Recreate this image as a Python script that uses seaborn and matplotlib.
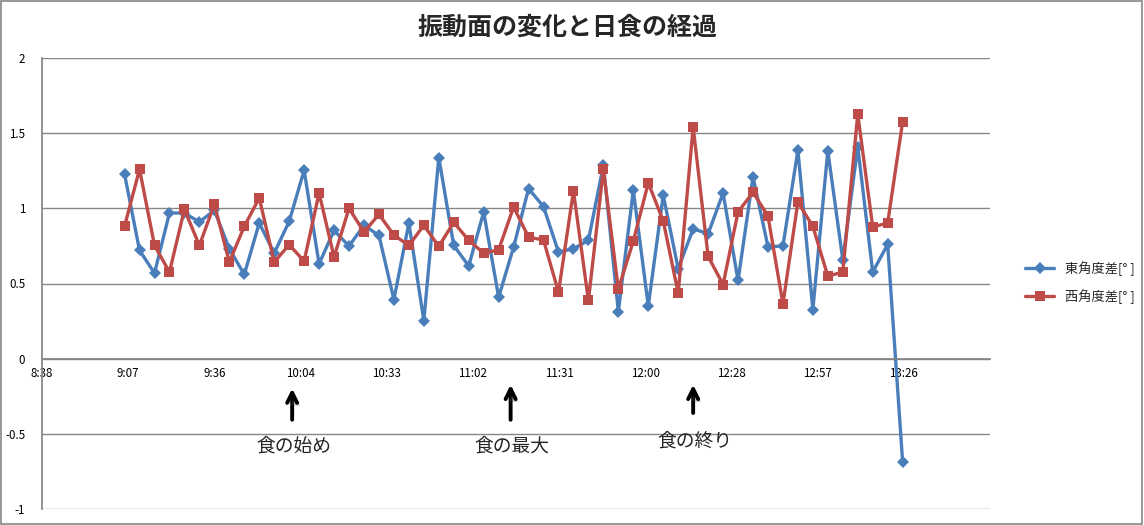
import pandas as pd
import seaborn as sns
import matplotlib.pyplot as plt
import matplotlib.patheffects as pe
from matplotlib.patches import Rectangle

# measurement times (every 5 min) and the two angle differences
times = ["9:06", "9:11", "9:16", "9:21", "9:26", "9:31", "9:36", "9:41", "9:46", "9:51",
         "9:56", "10:01", "10:06", "10:11", "10:16", "10:21", "10:26", "10:31", "10:36",
         "10:41", "10:46", "10:51", "10:56", "11:01", "11:06", "11:11", "11:16", "11:21",
         "11:26", "11:31", "11:36", "11:41", "11:46", "11:51", "11:56", "12:01", "12:06",
         "12:11", "12:16", "12:21", "12:26", "12:31", "12:36", "12:41", "12:46", "12:51",
         "12:56", "13:01", "13:06", "13:11", "13:16", "13:21", "13:26"]
east = [1.227, 0.72, 0.569, 0.969, 0.969, 0.909, 0.987, 0.731, 0.56, 0.902,
        0.702, 0.913, 1.253, 0.631, 0.853, 0.749, 0.887, 0.82, 0.393, 0.902,
        0.253, 1.338, 0.753, 0.616, 0.976, 0.409, 0.742, 1.131, 1.011, 0.709,
        0.731, 0.787, 1.287, 0.313, 1.12, 0.351, 1.087, 0.598, 0.864, 0.831,
        1.102, 0.52, 1.209, 0.745, 0.749, 1.387, 0.327, 1.382, 0.658, 1.409,
        0.576, 0.76, -0.687]
west = [0.882, 1.26, 0.753, 0.576, 0.993, 0.753, 1.027, 0.642, 0.88, 1.069,
        0.642, 0.758, 0.649, 1.102, 0.676, 1.0, 0.842, 0.96, 0.822, 0.753,
        0.887, 0.747, 0.907, 0.787, 0.702, 0.724, 1.009, 0.809, 0.789, 0.442,
        1.116, 0.387, 1.26, 0.462, 0.782, 1.169, 0.916, 0.436, 1.54, 0.68,
        0.493, 0.976, 1.107, 0.949, 0.364, 1.042, 0.88, 0.549, 0.576, 1.627,
        0.876, 0.902, 1.576]
series_names = ["東角度差[° ]", "西角度差[° ]"]

# x axis ticks (excel day fractions) and their labels
tick_days = [0.36, 0.38, 0.40, 0.42, 0.44, 0.46, 0.48, 0.50, 0.52, 0.54, 0.56]
tick_labels = ["8:38", "9:07", "9:36", "10:04", "10:33", "11:02", "11:31",
               "12:00", "12:28", "12:57", "13:26"]

# eclipse events
events = ["食の始め", "食の最大", "食の終り"]
event_times = ["10:02", "11:15", "12:16"]


def to_day(t):
    h, m = t.split(":")
    return int(h) / 24 + int(m) / 1440


df = pd.DataFrame({"t": [to_day(t) for t in times], "east": east, "west": west})

sns.set_theme(style="white")
plt.rcParams['font.family'] = ['Noto Sans CJK JP', 'DejaVu Sans']

fig = plt.figure(figsize=(11.44, 5.25), dpi=100)
ax = fig.add_axes([0.0367, 0.0305, 0.8287, 0.859])

sns.lineplot(data=df, x="t", y="east", ax=ax, color="#4A7EBB", lw=2.4,
             marker="D", markersize=6.5, markeredgewidth=0, label=series_names[0])
sns.lineplot(data=df, x="t", y="west", ax=ax, color="#BE4B48", lw=2.4,
             marker="s", markersize=7, markeredgewidth=0, label=series_names[1])

ax.set_xlim(0.36, 0.58)
ax.set_ylim(-1, 2)
ax.set_yticks([-1, -0.5, 0, 0.5, 1, 1.5, 2])
ax.set_yticklabels(["-1", "-0.5", "0", "0.5", "1", "1.5", "2"])
ax.set_xticks(tick_days)
ax.set_xticklabels(tick_labels)
ax.set_xlabel("")
ax.set_ylabel("")

ax.yaxis.grid(True, color="#868686", lw=1)
ax.xaxis.grid(False)
for s in ["top", "right"]:
    ax.spines[s].set_visible(False)
ax.spines["bottom"].set_position(("data", 0))
ax.spines["bottom"].set_color("#868686")
ax.spines["left"].set_color("#868686")
ax.tick_params(axis="both", labelsize=8.3, colors="black", length=4,
               direction="out", color="#868686", width=1)
ax.tick_params(axis="x", pad=2)
ax.tick_params(axis="y", pad=8)
ax.set_axisbelow(True)

fig.suptitle("振動面の変化と日食の経過", x=0.496, y=0.948, fontsize=18,
             fontweight="bold", va="center")

# arrows and labels for the eclipse
tips = [-0.18, -0.155, -0.155]
tails = [-0.425, -0.425, -0.38]
text_y = [-0.58, -0.58, -0.55]
shadow = [pe.SimplePatchShadow(offset=(2, -2), alpha=0.3), pe.Normal()]
for name, t, y0, y1, ty in zip(events, event_times, tips, tails, text_y):
    x = to_day(t)
    ax.annotate("", xy=(x, y0), xytext=(x, y1),
                arrowprops=dict(arrowstyle="->", lw=2.8, color="black",
                                mutation_scale=18, path_effects=shadow))
    ax.text(x + 0.0003, ty, name, ha="center", va="center", fontsize=13.5)

ax.legend_.remove()
h, l = ax.get_legend_handles_labels()
fig.legend(h, l, loc="center left", bbox_to_anchor=(0.886, 0.462),
           frameon=False, fontsize=9.5, handlelength=2.2, labelspacing=1.0)

fig.patches.append(Rectangle((0.0005, 0.001), 0.998, 0.997, transform=fig.transFigure,
                             fill=False, edgecolor="#868686", lw=1.2))

plt.savefig("out.png", dpi=100)
